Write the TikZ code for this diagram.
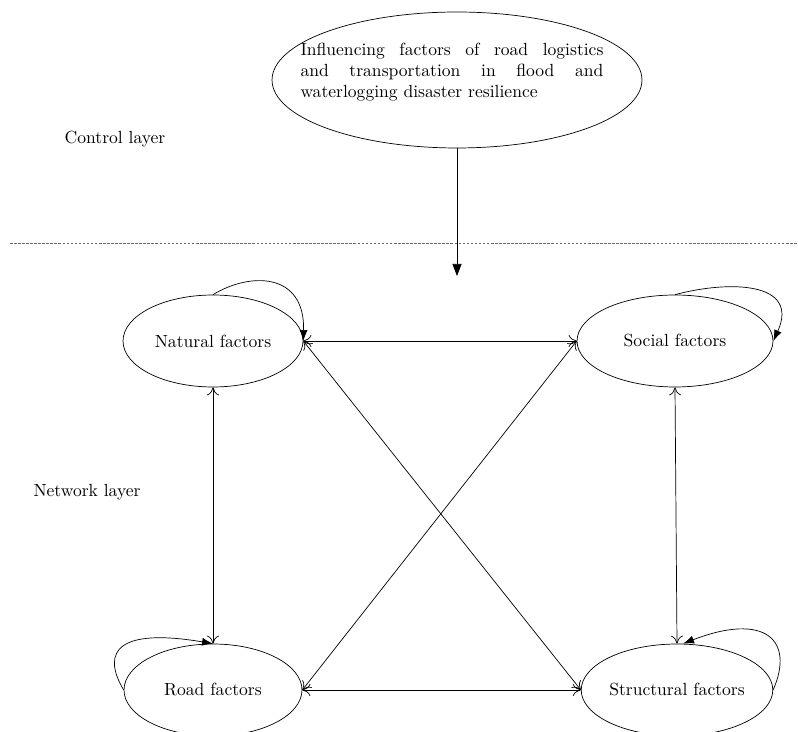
\documentclass[tikz,border=0pt]{standalone}
\usetikzlibrary{shapes.geometric, arrows.meta, calc}

\begin{document}
\begin{tikzpicture}[x=0.02cm, y=-0.02cm,
    factor/.style={draw, ellipse, inner sep=0, minimum height=1.84cm},
    selfloop/.style={-{Latex[length=2.2mm, width=1.6mm]}},
    link/.style={{To[length=1.6mm, width=2.4mm]}-{To[length=1.6mm, width=2.4mm]}}]
\useasboundingbox (0,0) rectangle (798,732);

% Control layer
\node[draw, ellipse, minimum width=7.4cm, minimum height=2.72cm] (goal) at (457,80) {};
\node[text width=6.06cm, align=justify, inner sep=0] (goal-text) at (452,72)
    {Influencing factors of road logistics\linebreak and transportation in flood and\linebreak waterlogging disaster resilience};
\node (control) at (115,139) {Control layer};

% layer border
\draw[densely dashed, dash pattern=on 1.5pt off 0.8pt, gray!80!black] (10,243) -- (798,243);
\coordinate (entry) at (457,276);
\draw[-{Triangle[length=2.4mm, width=1.8mm]}] (goal.south) -- (entry);

% Network layer
\node (network) at (87,492) {Network layer};
\node[factor, minimum width=3.6cm] (natural) at (213,341) {Natural factors};
\node[factor, minimum width=3.92cm] (social) at (675,341) {Social factors};
\node[factor, minimum width=3.56cm] (road) at (213,690) {Road factors};
\node[factor, minimum width=3.6cm] (structural) at (677,690) {Structural factors};

% links
\draw[link] (natural.east) -- (social.west);
\draw[link] (road.east) -- (structural.west);
\draw[link] (natural.south) -- (road.north);
\draw[link] (social.south) -- (structural.north);
\draw[link] (natural.east) -- (structural.west);
\draw[link] (social.west) -- (road.east);

% self loops
\draw[selfloop] (natural.north) .. controls (250,272) and (305,272) .. (natural.east);
\draw[selfloop] (social.north) .. controls (730,280) and (800,282) .. (social.east);
\draw[selfloop] (road.west) .. controls (100,650) and (120,628) .. (road.north);
\draw[selfloop] (structural.east) .. controls (795,640) and (765,612) .. ($(structural.north)+(6,0)$);
\end{tikzpicture}
\end{document}
